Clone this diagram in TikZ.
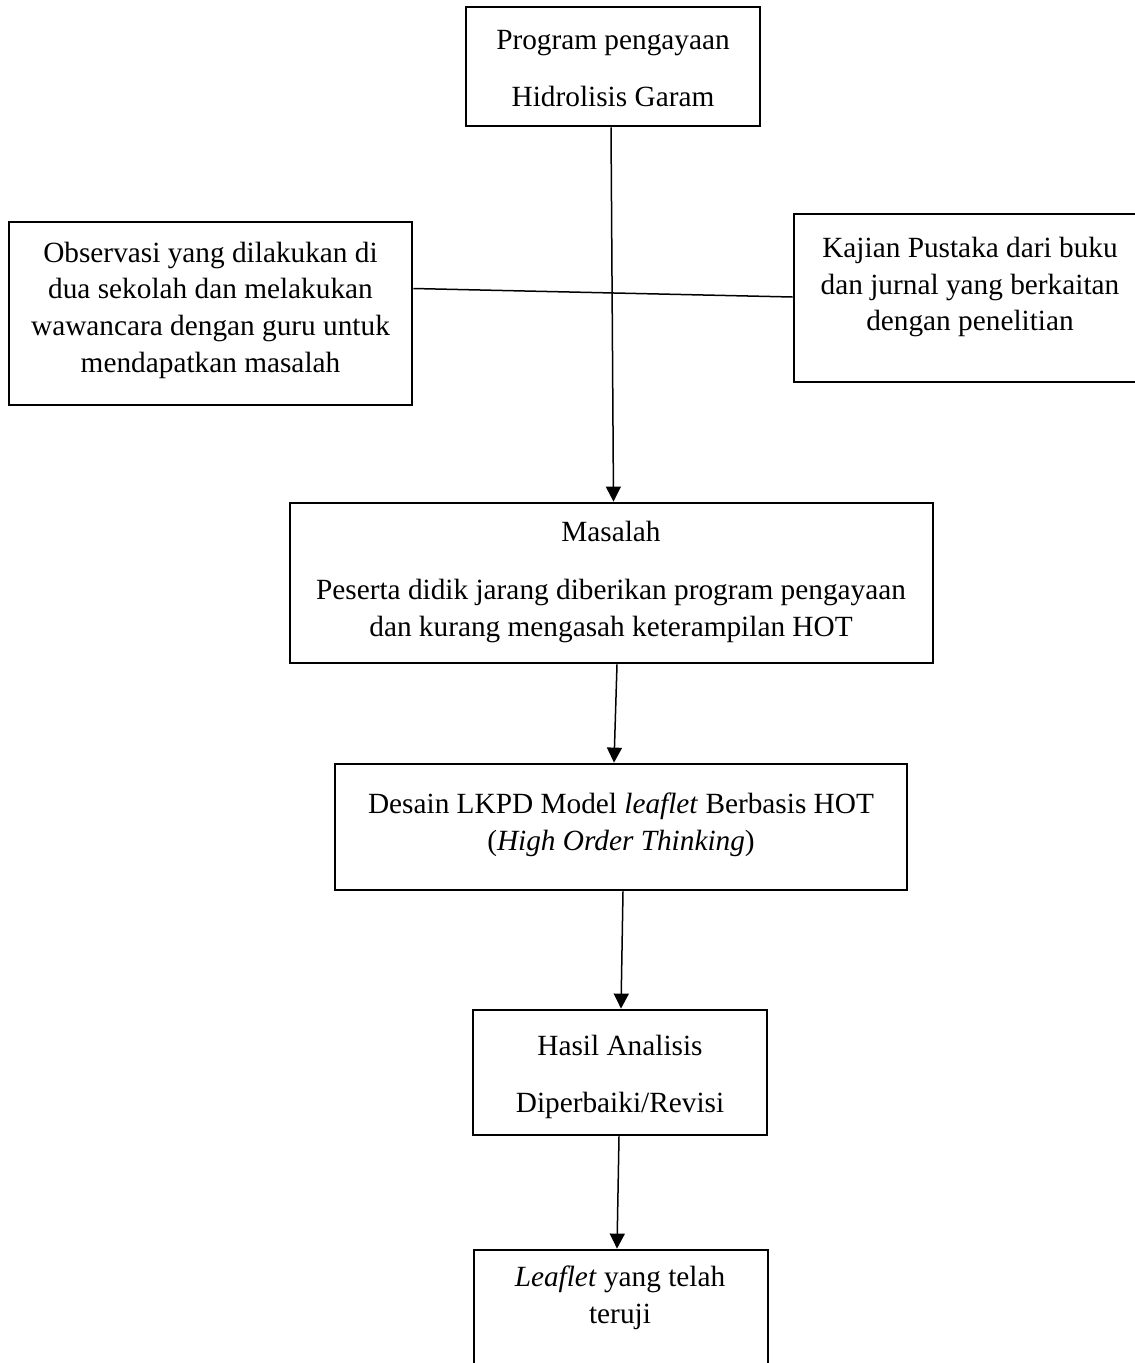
\documentclass[tikz,border=0pt]{standalone}
\usepackage{fontspec}
\setmainfont{Liberation Serif}
\usetikzlibrary{arrows.meta,calc}
\begin{document}
\begin{tikzpicture}[x=1pt,y=-1pt,
  box/.style={draw, line width=2.8pt, rectangle, inner sep=0pt},
  txt/.style={align=center, inner sep=0pt, font=\fontsize{29.3}{36.7}\selectfont},
  txtw/.style={align=center, inner sep=0pt, font=\fontsize{29.3}{57}\selectfont},
  conn/.style={line width=1.5pt},
  arr/.style={conn, -{Triangle[length=15pt,width=15pt]}}]
\useasboundingbox (0,0) rectangle (1135,1363);
% boxes
\node[box, minimum width=294pt, minimum height=119pt] (top) at (613,66.5) {};
\node[box, minimum width=403pt, minimum height=183pt] (left) at (210.5,313.5) {};
\node[box, minimum width=352pt, minimum height=168pt] (right) at (970,298) {};
\node[box, minimum width=643pt, minimum height=160pt] (mas) at (611.5,583) {};
\node[box, minimum width=572pt, minimum height=126pt] (des) at (621,827) {};
\node[box, minimum width=294pt, minimum height=125pt] (has) at (620,1072.5) {};
\node[box, minimum width=294pt, minimum height=150pt] (leaf) at (621,1325) {};
% texts
\node[txtw] (topT) at (613,68.5) {Program pengayaan\\Hidrolisis Garam};
\node[txt] (leftT) at (210.5,310) {Observasi yang dilakukan di\\dua sekolah dan melakukan\\wawancara dengan guru untuk\\mendapatkan masalah};
\node[txt] (rightT) at (970,287) {Kajian Pustaka dari buku\\dan jurnal yang berkaitan\\dengan penelitian};
\node[txt] (masT) at (611,582) {Masalah\\[21pt]Peserta didik jarang diberikan program pengayaan\\dan kurang mengasah keterampilan HOT};
\node[txt] (desT) at (621,824.5) {Desain LKPD Model \textit{leaflet} Berbasis HOT\\(\textit{High Order Thinking})};
\node[txtw] (hasT) at (620,1076.5) {Hasil Analisis\\Diperbaiki/Revisi};
\node[txt] (leafT) at (620,1298) {\textit{Leaflet} yang telah\\teruji};
% connectors
\draw[conn] ($(left.east)+(0,-25)$) -- ($(right.west)+(0,-1)$);
\draw[arr] ($(top.south)+(-2,0)$) -- ($(mas.north)+(2,0)$);
\draw[arr] ($(mas.south)+(5.5,0)$) -- ($(des.north)+(-7,0)$);
\draw[arr] ($(des.south)+(2,0)$) -- ($(has.north)+(1,0)$);
\draw[arr] ($(has.south)+(-1,0)$) -- ($(leaf.north)+(-4,0)$);
\end{tikzpicture}
\end{document}
